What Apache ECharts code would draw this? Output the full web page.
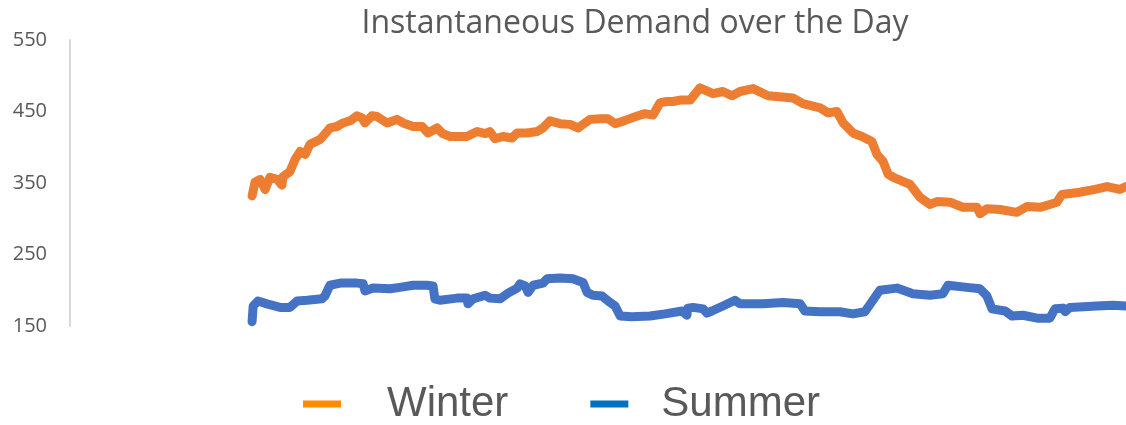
<!DOCTYPE html>
<html>
<head>
<meta charset="utf-8">
<script src="https://cdn.jsdelivr.net/npm/echarts@6/dist/echarts.min.js"></script>
<style>
  html, body { margin: 0; padding: 0; background: #fff; }
  #chart { width: 1126px; height: 425px; }
</style>
</head>
<body>
<div id="chart"></div>
<script>
// hours after the first reading
let winterHours = [0, 0.08, 0.22, 0.36, 0.49, 0.69, 0.82, 0.85, 1.04, 1.18, 1.32, 1.46, 1.59, 1.87, 2.06, 2.14, 2.33, 2.5, 2.69, 2.88,
    3.02, 3.1, 3.29, 3.43, 3.71, 3.98, 4.15, 4.42, 4.67, 4.83, 5.08, 5.24, 5.44, 5.71, 5.9, 6.18, 6.4, 6.53, 6.67, 6.89,
    7.14, 7.28, 7.55, 7.83, 7.99, 8.18, 8.46, 8.73, 8.95, 9.09, 9.28, 9.56, 9.77, 9.97, 10.16, 10.32, 10.6, 10.79, 11.01, 11.2,
    11.39, 11.56, 11.75, 12.03, 12.3, 12.66, 12.93, 13.18, 13.4, 13.76, 14.17, 14.41, 14.85, 15.13, 15.6, 15.82, 16.06, 16.23, 16.5, 16.75,
    17.02, 17.16, 17.33, 17.47, 17.61, 18.07, 18.34, 18.62, 18.81, 19.17, 19.52, 19.91, 19.99, 20.18, 20.54, 21, 21.28, 21.64, 21.91, 22.1,
    22.24, 22.73, 23.15, 23.48, 23.83, 24];
let winterLoad = [332, 351, 355, 341, 358, 355, 347, 359, 366, 383, 394, 390, 404, 411, 422, 427, 429, 434, 437, 444,
    441, 434, 444, 443, 434, 439, 434, 429, 429, 420, 427, 419, 415, 415, 415, 422, 419, 422, 412, 415,
    413, 420, 420, 422, 427, 437, 433, 432, 427, 432, 439, 440, 440, 433, 436, 439, 444, 447, 445, 462,
    464, 464, 466, 466, 483, 475, 478, 472, 478, 482, 472, 471, 469, 461, 455, 448, 450, 434, 420, 415,
    408, 390, 380, 362, 358, 348, 330, 320, 324, 323, 316, 316, 307, 314, 313, 309, 317, 316, 320, 323,
    334, 337, 341, 345, 341, 345];

let summerHours = [0, 0.03, 0.16, 0.41, 0.77, 1.04, 1.24, 1.51, 1.92, 2, 2.14, 2.42, 2.88, 3.05, 3.1, 3.32, 3.79, 4.06, 4.42, 4.8,
    4.97, 5.02, 5.16, 5.63, 5.9, 5.93, 6.07, 6.4, 6.53, 6.81, 7.03, 7.28, 7.36, 7.5, 7.58, 7.72, 7.99, 8.1, 8.46, 8.81,
    9.09, 9.2, 9.36, 9.61, 9.83, 9.97, 10.11, 10.43, 10.93, 11.34, 11.81, 11.94, 11.97, 12.11, 12.39, 12.49, 12.63, 12.93, 13.26, 13.4,
    14.03, 14.58, 15.05, 15.18, 15.6, 16.14, 16.5, 16.83, 17.24, 17.71, 18.15, 18.62, 18.97, 19.11, 19.63, 19.99, 20.18, 20.32, 20.68, 20.87,
    21.17, 21.56, 21.91, 22.05, 22.27, 22.33, 22.46, 23.2, 23.64, 24];
let summerLoad = [156, 178, 185, 181, 176, 176, 185, 186, 188, 192, 207, 210, 210, 209, 199, 203, 202, 204, 207, 207,
    206, 188, 186, 189, 189, 181, 188, 193, 189, 188, 196, 203, 209, 206, 197, 207, 210, 216, 217, 216,
    211, 197, 193, 192, 183, 178, 164, 163, 164, 167, 171, 165, 175, 176, 174, 168, 171, 178, 186, 181,
    181, 183, 181, 171, 170, 170, 167, 170, 200, 203, 195, 193, 195, 207, 204, 202, 192, 174, 171, 164,
    165, 161, 161, 174, 175, 170, 176, 178, 179, 178];

let yTicks = [150, 250, 350, 450, 550];

function pairs(xs, ys) {
    return xs.map(function (x, i) { return [x, ys[i]]; });
}

let myChart = echarts.init(document.getElementById('chart'));
let option = {
    animation: false,
    title: {
        text: 'Instantaneous Demand over the Day',
        left: 630,
        textAlign: 'center',
        top: 3,
        textStyle: {
            fontFamily: 'Open Sans',
            fontSize: 32,
            fontWeight: 'normal',
            color: '#595959'
        }
    },
    legend: {
        left: 298,
        top: 378,
        icon: 'rect',
        itemWidth: 38,
        itemHeight: 7,
        itemGap: 82,
        textStyle: {
            fontFamily: 'Liberation Sans',
            fontSize: 42,
            color: '#595959'
        },
        data: [
            { name: 'Winter', itemStyle: { color: '#FF8C00' }, textStyle: { padding: [0, 0, 0, 41] } },
            { name: 'Summer', itemStyle: { color: '#0070C0' }, textStyle: { padding: [0, 0, 0, 28] } }
        ]
    },
    grid: {
        left: 70,
        right: 0,
        top: 40,
        bottom: 99
    },
    xAxis: {
        type: 'value',
        min: -5,
        max: 24,
        show: false
    },
    yAxis: {
        type: 'value',
        min: yTicks[0],
        max: yTicks[yTicks.length - 1],
        interval: 100,
        axisLine: { show: true, onZero: false, lineStyle: { color: '#D9D9D9', width: 2 } },
        axisTick: { show: false },
        splitLine: { show: false },
        axisLabel: {
            margin: 23,
            fontFamily: 'Open Sans',
            fontSize: 20,
            color: '#595959'
        }
    },
    series: [
        {
            name: 'Winter',
            type: 'line',
            data: pairs(winterHours, winterLoad),
            showSymbol: false,
            color: '#ED7D31',
            lineStyle: { width: 9, color: '#ED7D31', cap: 'round', join: 'round' }
        },
        {
            name: 'Summer',
            type: 'line',
            data: pairs(summerHours, summerLoad),
            showSymbol: false,
            color: '#4472C4',
            lineStyle: { width: 9, color: '#4472C4', cap: 'round', join: 'round' }
        }
    ]
};
myChart.setOption(option);
</script>
</body>
</html>
